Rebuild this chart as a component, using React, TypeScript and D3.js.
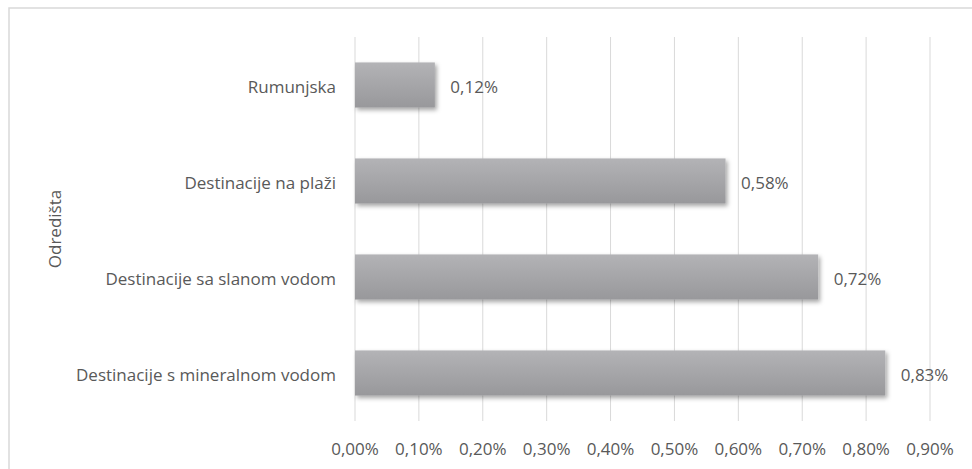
import React from "react";
import * as d3 from "d3";

const categories = [
  "Rumunjska",
  "Destinacije na plaži",
  "Destinacije sa slanom vodom",
  "Destinacije s mineralnom vodom",
];
const values = [0.00125, 0.0058, 0.00725, 0.0083];
const valueLabels = ["0,12%", "0,58%", "0,72%", "0,83%"];
const ticks = [0, 0.001, 0.002, 0.003, 0.004, 0.005, 0.006, 0.007, 0.008, 0.009];
const tickLabels = ["0,00%", "0,10%", "0,20%", "0,30%", "0,40%", "0,50%", "0,60%", "0,70%", "0,80%", "0,90%"];
const axisTitle = "Odredišta";

const W = 972;
const H = 469;
const FONT = "'Open Sans', sans-serif";
const TXT = "#595959";

export default function App() {
  const x = d3.scaleLinear().domain([0, 0.009]).range([355, 930]);
  const y = d3
    .scaleBand<string>()
    .domain(categories)
    .range([37, 421])
    .paddingInner(0.53)
    .paddingOuter(0.265);

  return (
    <svg
      width={W}
      height={H}
      style={{ position: "absolute", left: 0, top: 0, background: "#fff" }}
      fontFamily={FONT}
    >
      <defs>
        <linearGradient id="barGrad" x1="0" y1="0" x2="0" y2="1">
          <stop offset="0" stopColor="#b3b3b6" />
          <stop offset="1" stopColor="#98989b" />
        </linearGradient>
        <filter id="shadow" x="-10%" y="-20%" width="130%" height="160%">
          <feDropShadow dx="2" dy="2.5" stdDeviation="2" floodColor="#000" floodOpacity="0.35" />
        </filter>
      </defs>
      <rect x={9} y={8} width={W} height={H} fill="#fff" stroke="#d9d9d9" strokeWidth={1.5} />

      {ticks.map((t, i) => (
        <line
          key={"g" + i}
          x1={x(t)}
          x2={x(t)}
          y1={37}
          y2={421}
          stroke="#d9d9d9"
          strokeWidth={1}
        />
      ))}

      {categories.map((c, i) => (
        <rect
          key={"b" + i}
          x={x(0)}
          y={y(c)}
          width={x(values[i]) - x(0)}
          height={y.bandwidth()}
          fill="url(#barGrad)"
          filter="url(#shadow)"
        />
      ))}

      {categories.map((c, i) => (
        <text
          key={"v" + i}
          x={x(values[i]) + 15.5}
          y={(y(c) as number) + y.bandwidth() / 2 + 2}
          dy="0.35em"
          fontSize={17}
          fill={TXT}
        >
          {valueLabels[i]}
        </text>
      ))}

      {categories.map((c, i) => (
        <text
          key={"c" + i}
          x={336}
          y={(y(c) as number) + y.bandwidth() / 2 + 2}
          dy="0.35em"
          textAnchor="end"
          fontSize={17}
          fill={TXT}
        >
          {c}
        </text>
      ))}

      {ticks.map((t, i) => (
        <text
          key={"t" + i}
          x={x(t)}
          y={449}
          dy="0.35em"
          textAnchor="middle"
          fontSize={17}
          fill={TXT}
        >
          {tickLabels[i]}
        </text>
      ))}

      <text
        transform={`translate(55,229) rotate(-90)`}
        textAnchor="middle"
        dy="0.35em"
        fontSize={17}
        fill={TXT}
      >
        {axisTitle}
      </text>
    </svg>
  );
}
